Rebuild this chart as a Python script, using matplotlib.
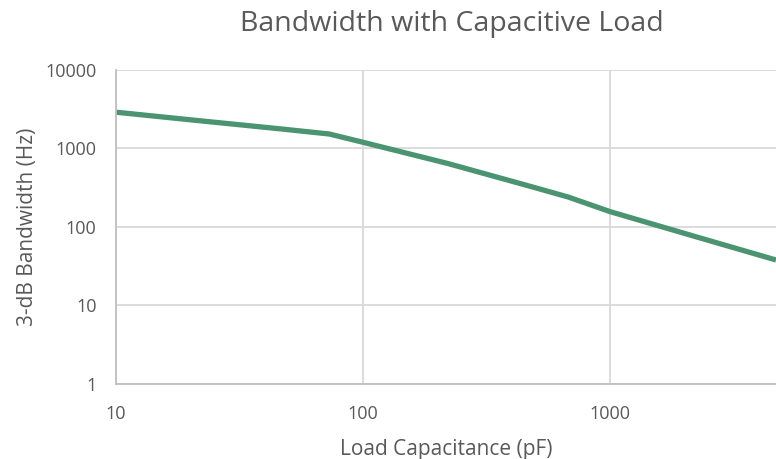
import numpy as np
import matplotlib.pyplot as plt
from matplotlib.ticker import FixedLocator, FixedFormatter, NullLocator

# values
cap_pf = [10, 20, 47, 73, 100, 220, 470, 680, 1000, 2200, 4700]
bw_hz = [2900, 2320, 1770, 1530, 1200, 645, 333, 240, 157, 76, 38]

x_ticks = [10, 100, 1000]
y_ticks = [1, 10, 100, 1000, 10000]

plt.rcParams['font.family'] = ['Open Sans', 'DejaVu Sans']
txt = '#595959'

fig = plt.figure(figsize=(7.76, 4.59), dpi=100)
ax = fig.add_axes([0.1495, 0.1634, 0.8505, 0.6841])

ax.plot(cap_pf, bw_hz, color='#4a9472', lw=3.8, solid_capstyle='butt',
        solid_joinstyle='round')

ax.set_xscale('log')
ax.set_yscale('log')
ax.set_xlim(10, 4700)
ax.set_ylim(1, 10000)

ax.xaxis.set_major_locator(FixedLocator(x_ticks))
ax.xaxis.set_major_formatter(FixedFormatter([str(v) for v in x_ticks]))
ax.xaxis.set_minor_locator(NullLocator())
ax.yaxis.set_major_locator(FixedLocator(y_ticks))
ax.yaxis.set_major_formatter(FixedFormatter([str(v) for v in y_ticks]))
ax.yaxis.set_minor_locator(NullLocator())

ax.grid(True, color='#d9d9d9', lw=1.3)
ax.set_axisbelow(True)
for s in ['top', 'right']:
    ax.spines[s].set_visible(False)
for s in ['left', 'bottom']:
    ax.spines[s].set_color('#bfbfbf')
    ax.spines[s].set_linewidth(1.3)

ax.tick_params(axis='both', length=0, labelsize=13, labelcolor=txt)
ax.tick_params(axis='x', pad=15)
ax.tick_params(axis='y', pad=14)

ax.set_xlabel('Load Capacitance (pF)', fontsize=15, color=txt, labelpad=12)
ax.set_ylabel('3-dB Bandwidth (Hz)', fontsize=15, color=txt, labelpad=5)
fig.suptitle('Bandwidth with Capacitive Load', fontsize=20.5, color=txt,
             x=0.582, y=0.978)

fig.savefig('out.png', dpi=100)
